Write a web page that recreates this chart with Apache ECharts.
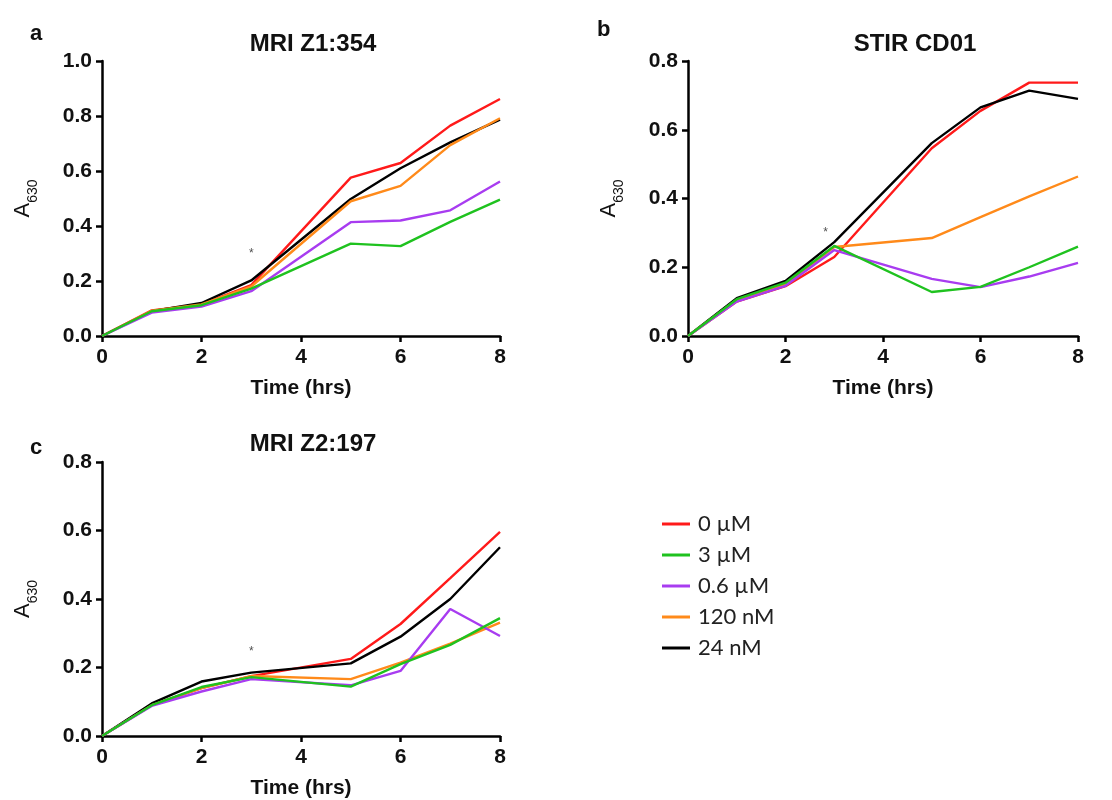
<!DOCTYPE html>
<html>
<head>
<meta charset="utf-8">
<script src="https://cdn.jsdelivr.net/npm/echarts@6/dist/echarts.min.js"></script>
<style>
  html, body { margin: 0; padding: 0; background: #fff; }
  #chart { width: 1112px; height: 800px; }
</style>
</head>
<body>
<div id="chart"></div>
<script>
// Sampling times (hours)
const hours = [0, 1, 2, 3, 5, 6, 7, 8];

// Treatment groups
const groupNames = ['0 µM', '3 µM', '0.6 µM', '120 nM', '24 nM'];

// Panel a: MRI Z1:354
const a_0uM   = [0, 0.093, 0.115, 0.185, 0.576, 0.629, 0.765, 0.862];
const a_3uM   = [0, 0.090, 0.112, 0.172, 0.336, 0.327, 0.415, 0.496];
const a_06uM  = [0, 0.085, 0.107, 0.163, 0.414, 0.420, 0.457, 0.562];
const a_120nM = [0, 0.092, 0.115, 0.180, 0.490, 0.546, 0.694, 0.792];
const a_24nM  = [0, 0.090, 0.120, 0.202, 0.498, 0.610, 0.704, 0.787];

// Panel b: STIR CD01
const b_0uM   = [0, 0.100, 0.145, 0.230, 0.546, 0.655, 0.737, 0.737];
const b_3uM   = [0, 0.107, 0.155, 0.262, 0.128, 0.143, 0.200, 0.260];
const b_06uM  = [0, 0.100, 0.146, 0.250, 0.166, 0.142, 0.173, 0.213];
const b_120nM = [0, 0.105, 0.150, 0.259, 0.285, 0.346, 0.406, 0.464];
const b_24nM  = [0, 0.110, 0.160, 0.273, 0.561, 0.665, 0.714, 0.690];

// Panel c: MRI Z2:197
const c_0uM   = [0, 0.090, 0.140, 0.175, 0.225, 0.327, 0.461, 0.596];
const c_3uM   = [0, 0.090, 0.143, 0.172, 0.144, 0.210, 0.266, 0.344];
const c_06uM  = [0, 0.088, 0.130, 0.166, 0.148, 0.190, 0.371, 0.292];
const c_120nM = [0, 0.090, 0.140, 0.175, 0.166, 0.214, 0.270, 0.331];
const c_24nM  = [0, 0.095, 0.159, 0.185, 0.212, 0.290, 0.400, 0.551];

// Significance markers [time, A630]
const starA = [3.0, 0.300];
const starB = [2.82, 0.300];
const starC = [3.0, 0.245];

const yTicksA = { min: 0, max: 1.0, interval: 0.2 };
const yTicksBC = { min: 0, max: 0.8, interval: 0.2 };

const colors = {
  '0 µM': '#ff1a1a',
  '3 µM': '#1fc21f',
  '0.6 µM': '#a83cf0',
  '120 nM': '#ff8a1a',
  '24 nM': '#000000'
};

const FONT = '"Liberation Sans", Arial, sans-serif';

const panels = [
  { sets: [a_0uM, a_3uM, a_06uM, a_120nM, a_24nM], star: starA },
  { sets: [b_0uM, b_3uM, b_06uM, b_120nM, b_24nM], star: starB },
  { sets: [c_0uM, c_3uM, c_06uM, c_120nM, c_24nM], star: starC }
];

const grids = [
  { left: 102, top: 61, width: 398, height: 275 },
  { left: 688, top: 61, width: 390, height: 275 },
  { left: 102, top: 462, width: 398, height: 274 }
];

function xAxisFor(i) {
  return {
    type: 'value', gridIndex: i, min: 0, max: 8, interval: 2,
    name: 'Time (hrs)', nameLocation: 'middle', nameGap: 42,
    nameTextStyle: { fontFamily: FONT, fontWeight: 'bold', fontSize: 21, color: '#111' },
    axisLine: { onZero: false, lineStyle: { color: '#000', width: 2.5 } },
    axisTick: { show: true, inside: false, length: 6, lineStyle: { color: '#000', width: 2.5 } },
    axisLabel: { fontFamily: FONT, fontWeight: 'bold', fontSize: 21, color: '#111', margin: 11 },
    splitLine: { show: false }
  };
}

function yAxisFor(i, t) {
  return {
    type: 'value', gridIndex: i, min: t.min, max: t.max, interval: t.interval,
    name: '{a|A}{s|630}', nameLocation: 'middle', nameGap: 62, nameRotate: 90,
    nameTextStyle: {
      fontFamily: FONT, color: '#111',
      rich: {
        a: { fontFamily: FONT, fontSize: 22, color: '#111', lineHeight: 30, verticalAlign: 'top', padding: [2, 0, 0, 0] },
        s: { fontFamily: FONT, fontSize: 14, color: '#111', lineHeight: 30, verticalAlign: 'bottom' }
      }
    },
    axisLine: { show: true, onZero: false, lineStyle: { color: '#000', width: 2.5 } },
    axisTick: { show: true, inside: false, length: 6, lineStyle: { color: '#000', width: 2.5 } },
    axisLabel: {
      fontFamily: FONT, fontWeight: 'bold', fontSize: 21, color: '#111', margin: 10,
      formatter: v => v.toFixed(1)
    },
    splitLine: { show: false }
  };
}

// Draw order: red, black, orange, purple, green (green on top)
const drawOrder = [0, 4, 3, 2, 1];

const series = [];
panels.forEach((p, gi) => {
  drawOrder.forEach(k => {
    const name = groupNames[k];
    series.push({
      type: 'line', name: name, xAxisIndex: gi, yAxisIndex: gi,
      data: hours.map((h, j) => [h, p.sets[k][j]]),
      showSymbol: false, symbol: 'none',
      lineStyle: { color: colors[name], width: 2.4 },
      itemStyle: { color: colors[name] },
      animation: false
    });
  });
  series.push({
    type: 'scatter', name: 'sig' + gi, xAxisIndex: gi, yAxisIndex: gi,
    data: [p.star], symbolSize: 0, silent: true,
    label: { show: true, position: 'inside', formatter: '*', fontFamily: FONT, fontSize: 12, color: '#222' },
    animation: false
  });
});

const titleStyle = { fontFamily: FONT, fontWeight: 'bold', fontSize: 24, color: '#111' };
const letterStyle = { fontFamily: FONT, fontWeight: 'bold', fontSize: 22, color: '#111' };

const option = {
  backgroundColor: '#fff',
  animation: false,
  title: [
    { text: 'MRI Z1:354', left: 308, top: 27, textAlign: 'center', textStyle: titleStyle },
    { text: 'STIR CD01', left: 910, top: 27, textAlign: 'center', textStyle: titleStyle },
    { text: 'MRI Z2:197', left: 308, top: 427, textAlign: 'center', textStyle: titleStyle },
    { text: 'a', left: 25, top: 18, textStyle: letterStyle },
    { text: 'b', left: 592, top: 14, textStyle: letterStyle },
    { text: 'c', left: 25, top: 432, textStyle: letterStyle }
  ],
  legend: {
    data: groupNames,
    orient: 'vertical', left: 657, top: 508,
    icon: 'rect', itemWidth: 28, itemHeight: 3, itemGap: 9,
    textStyle: { fontFamily: 'Lato, "Open Sans", sans-serif', fontSize: 22, color: '#222', lineHeight: 21, padding: [0, 0, 0, 3] }
  },
  grid: grids,
  xAxis: [xAxisFor(0), xAxisFor(1), xAxisFor(2)],
  yAxis: [yAxisFor(0, yTicksA), yAxisFor(1, yTicksBC), yAxisFor(2, yTicksBC)],
  series: series
};

const chart = echarts.init(document.getElementById('chart'), null, { renderer: 'canvas' });
chart.setOption(option);
</script>
</body>
</html>
